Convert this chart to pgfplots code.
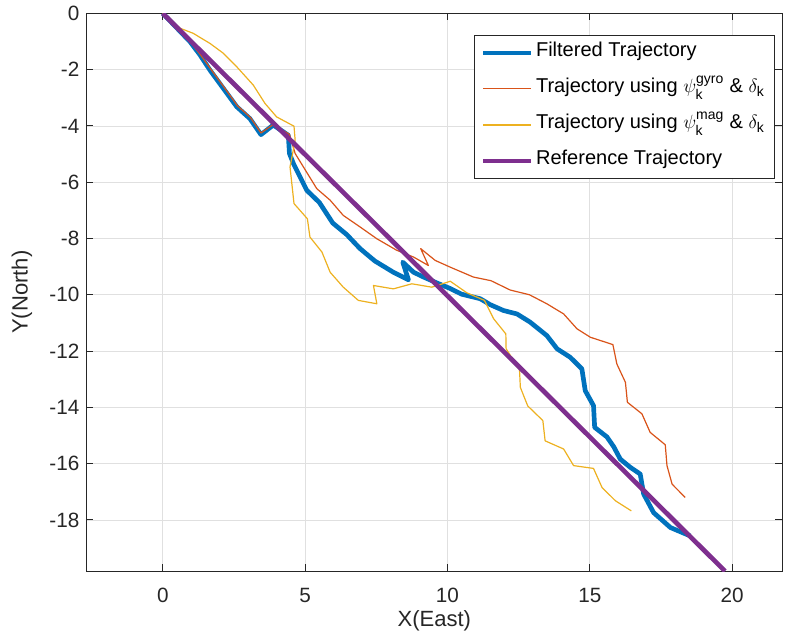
\documentclass[border=0pt]{standalone}
\usepackage{pgfplots}
\pgfplotsset{compat=1.18}
\usepackage{amsmath}
\usepackage{fontspec}
\setmainfont{Liberation Sans}
\definecolor{mblue}{rgb}{0,0.447,0.741}
\definecolor{morange}{rgb}{0.85,0.325,0.098}
\definecolor{myellow}{rgb}{0.929,0.694,0.125}
\definecolor{mpurple}{rgb}{0.494,0.184,0.556}
\definecolor{axgray}{rgb}{0.15,0.15,0.15}
\begin{document}
\begin{tikzpicture}
\begin{axis}[
  name=ax,
  scale only axis,
  width=521pt, height=418pt,
  xmin=-2.67, xmax=21.75, ymin=-19.82, ymax=0,
  xtick={0,5,10,15,20},
  ytick={0,-2,-4,-6,-8,-10,-12,-14,-16,-18},
  grid=major,
  major grid style={draw=black!12, line width=0.6pt},
  tick align=inside,
  major tick length=5pt,
  axis line style={draw=axgray, line width=0.7pt},
  tick style={draw=axgray, line width=0.7pt},
  every tick label/.append style={font=\fontsize{15.5}{17}\selectfont, text=axgray},
  xticklabel style={yshift=-9pt},
  yticklabel style={xshift=-2pt},
  /pgf/number format/assume math mode=true,
  xlabel={X(East)}, ylabel={Y(North)},
  label style={font=\fontsize{16.5}{18}\selectfont, text=axgray},
  xlabel style={yshift=1pt},
  ylabel style={yshift=6pt},
  legend style={at={(0.989,0.961)}, anchor=north east, draw=axgray, line width=0.6pt,
    font=\fontsize{15}{17}\selectfont, inner xsep=5pt, inner ysep=2pt,
    row sep=5pt, nodes={text height=12pt, text depth=6pt, inner ysep=2pt}, cells={anchor=west}},
  legend image code/.code={\draw[#1] plot coordinates {(0pt,0pt) (18pt,0pt) (36pt,0pt)};},
  legend cell align=left,
]
\addplot[color=mblue, line width=3.5pt, line join=round] coordinates {
(0,0) (0.96,-1.01) (1.31,-1.48) (1.66,-2.02) (2.13,-2.67) (2.6,-3.32) (3.06,-3.74) (3.45,-4.31) (3.88,-3.97) (4.41,-4.33) (4.45,-4.98) (4.59,-5.34) (5.06,-6.29) (5.5,-6.72) (5.97,-7.45) (6.46,-7.86) (6.93,-8.36) (7.45,-8.8) (8.1,-9.2) (8.63,-9.47) (8.43,-8.84) (8.81,-9.2) (9.16,-9.37) (9.63,-9.58) (10.1,-9.78) (10.5,-9.98) (11.15,-10.14) (11.5,-10.35) (11.97,-10.56) (12.44,-10.68) (12.9,-10.97) (13.49,-11.45) (13.85,-11.92) (14.31,-12.22) (14.72,-12.63) (14.84,-13.41) (15.13,-13.94) (15.17,-14.71) (15.6,-15.05) (15.84,-15.4) (16.07,-15.84) (16.42,-16.13) (16.77,-16.37) (16.89,-17.08) (17.24,-17.74) (17.83,-18.27) (18.53,-18.57)
};
\addlegendentry{Filtered Trajectory}
\addplot[color=morange, line width=0.9pt, line join=round] coordinates {
(0,0) (0.96,-1.0) (1.31,-1.45) (1.7,-2.0) (2.15,-2.62) (2.62,-3.28) (3.08,-3.7) (3.45,-4.25) (3.88,-3.95) (4.45,-4.3) (4.65,-4.98) (5.41,-6.23) (5.88,-6.64) (6.34,-7.18) (6.93,-7.59) (7.52,-8.01) (8.22,-8.42) (8.81,-8.66) (9.33,-8.96) (9.06,-8.36) (9.57,-8.78) (10.1,-9.02) (10.91,-9.37) (11.53,-9.5) (12.2,-9.83) (12.88,-10.0) (13.49,-10.32) (14.08,-10.68) (14.55,-11.21) (15.02,-11.51) (15.81,-11.77) (15.95,-12.46) (16.25,-13.11) (16.32,-13.82) (16.83,-14.23) (17.12,-14.89) (17.65,-15.33) (17.71,-16.07) (17.89,-16.73) (18.35,-17.2)
};
\addlegendentry{Trajectory using $\psi^{\text{gyro}}_{\text{k}}$ \& $\delta_{\text{k}}$}
\addplot[color=myellow, line width=0.9pt, line join=round] coordinates {
(0,0) (0.61,-0.53) (1.07,-0.71) (1.66,-1.07) (2.13,-1.42) (2.6,-1.9) (3.18,-2.55) (3.59,-3.2) (4.0,-3.68) (4.61,-4.01) (4.65,-4.51) (4.47,-5.46) (4.61,-6.76) (5.08,-7.3) (5.17,-7.95) (5.59,-8.48) (5.88,-9.2) (6.34,-9.73) (6.87,-10.2) (7.52,-10.32) (7.4,-9.67) (8.1,-9.79) (8.75,-9.61) (9.45,-9.73) (10.1,-9.52) (10.68,-9.93) (11.3,-10.2) (11.62,-10.85) (12.05,-11.39) (12.06,-11.92) (12.53,-12.66) (12.56,-13.29) (12.82,-13.95) (13.35,-14.47) (13.43,-15.19) (14.08,-15.48) (14.43,-16.07) (15.13,-16.17) (15.43,-16.85) (15.9,-17.32) (16.46,-17.68)
};
\addlegendentry{Trajectory using $\psi^{\text{mag}}_{\text{k}}$ \& $\delta_{\text{k}}$}
\addplot[color=mpurple, line width=3.5pt] coordinates {
(0,0) (19.75,-19.82)
};
\addlegendentry{Reference Trajectory}
\end{axis}
\pgfresetboundingbox
\path[use as bounding box] ([xshift=-65pt,yshift=-50.25pt]ax.south west) rectangle ([xshift=5.25pt,yshift=10pt]ax.north east);
\end{tikzpicture}
\end{document}
